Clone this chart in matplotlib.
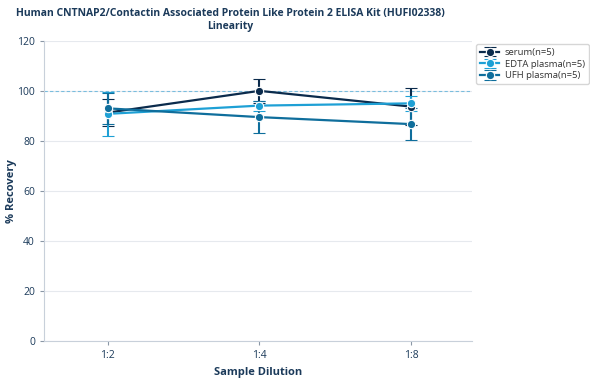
import matplotlib
matplotlib.use("Agg")
import matplotlib.pyplot as plt

# --- data ---
dilutions = ["1:2", "1:4", "1:8"]
serum = [91.3, 100.0, 93.7]
serum_err = [5.4, 4.8, 7.4]
edta = [90.8, 94.1, 95.0]
edta_err = [8.7, 2.0, 3.0]
ufh = [93.0, 89.5, 86.7]
ufh_err = [6.2, 6.3, 6.3]

labels = ["serum(n=5)", "EDTA plasma(n=5)", "UFH plasma(n=5)"]
colors = ["#0b2b4c", "#1ea0d5", "#0f6e9c"]
text_color = "#1b3a5a"

plt.rcParams["font.family"] = ["Open Sans", "DejaVu Sans"]

fig = plt.figure(figsize=(5.9, 3.8), dpi=100)
ax = fig.add_axes([0.0746, 0.1026, 0.725, 0.79])

x = list(range(len(dilutions)))
series = [(serum, serum_err), (edta, edta_err), (ufh, ufh_err)]
for (vals, errs), lab, col in zip(series, labels, colors):
    ax.errorbar(x, vals, yerr=errs, color=col, label=lab, lw=1.6,
                marker="o", ms=6, mec="white", mew=0.8,
                capsize=4, capthick=1.5, elinewidth=1.5)

# 100% reference line
ax.axhline(100, color="#5fb3d9", lw=0.8, ls=(0, (3, 2)), alpha=0.8, zorder=1)

ax.set_xlim(-0.42, 2.4)
ax.set_ylim(0, 120)
ax.set_yticks(range(0, 121, 20))
ax.set_xticks(x)
ax.set_xticklabels(dilutions)
ax.grid(axis="y", color="#e6e9ee", lw=0.8)
ax.set_axisbelow(True)
for s in ["top", "right"]:
    ax.spines[s].set_visible(False)
for s in ["left", "bottom"]:
    ax.spines[s].set_color("#c8d0da")
ax.tick_params(colors=text_color, labelsize=7.5, length=3, width=0.8)
ax.tick_params(axis="both", color="#8a97a6")

ax.set_xlabel("Sample Dilution", fontsize=8, fontweight="bold", color=text_color,
              labelpad=4)
ax.set_ylabel("% Recovery", fontsize=8, fontweight="bold", color=text_color)
ax.yaxis.set_label_coords(-0.062, 0.5)
fig.text(0.39, 0.978,
         "Human CNTNAP2/Contactin Associated Protein Like Protein 2 ELISA Kit (HUFI02338)\nLinearity",
         ha="center", va="top", fontsize=7.45, fontweight="bold", color=text_color,
         linespacing=1.25)

leg = ax.legend(loc="upper left", bbox_to_anchor=(1.0, 1.005), fontsize=6.8,
                frameon=True, fancybox=True, edgecolor="#cccccc",
                handlelength=2, borderpad=0.4, labelspacing=0.3,
                handletextpad=0.6)
for t in leg.get_texts():
    t.set_color("#333333")

fig.savefig("out.png", dpi=100)
